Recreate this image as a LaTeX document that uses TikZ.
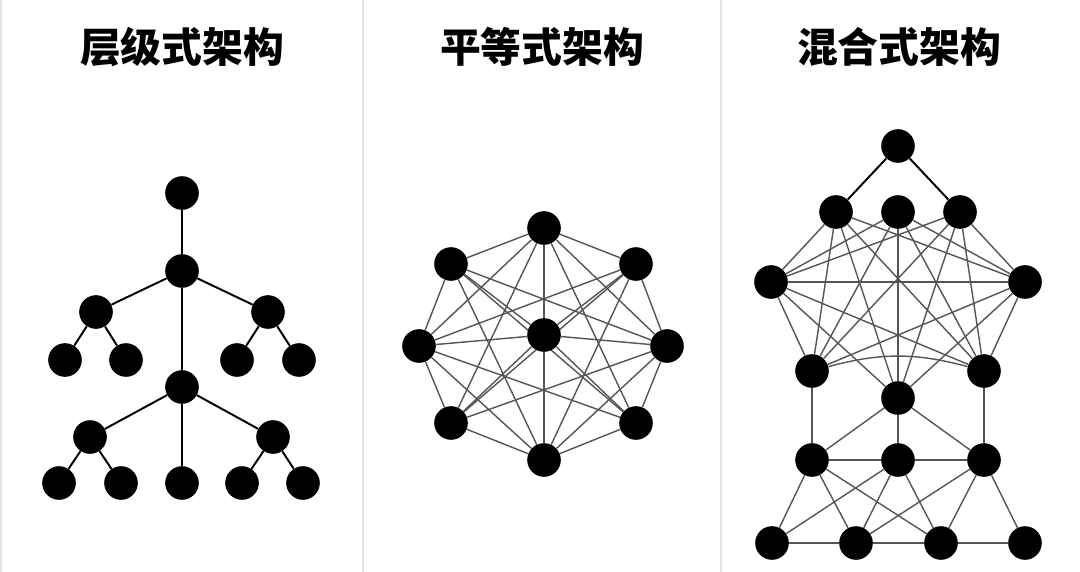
\documentclass[tikz,border=0pt]{standalone}
\usepackage{fontspec}
\newfontfamily\cjk{Noto Sans CJK SC}
\usepackage{tikz}
\pgfdeclarelayer{background}
\pgfsetlayers{background,main}
\definecolor{edgegray}{HTML}{555555}
\definecolor{rulegray}{HTML}{E1E5EA}

\begin{document}
\begin{tikzpicture}[
    x=0.025cm, y=-0.025cm,
    dot/.style={circle, fill=black, inner sep=0pt, minimum size=0.84cm},
    tree/.style={line width=1.4pt, color=black},
    link/.style={line width=1.0pt, color=edgegray},
    heading/.style={font=\cjk\bfseries\fontsize{29}{34}\selectfont},
    divider/.style={line width=1.2pt, color=rulegray}
]
\useasboundingbox (0,0) rectangle (1080,572);
\begin{pgfonlayer}{background}
\fill[white] (0,0) rectangle (1080,572);
\end{pgfonlayer}

% Panel dividers
\draw[divider] (1,0) -- (1,572);
\draw[divider] (363,0) -- (363,572);
\draw[divider] (721,0) -- (721,572);

% Headings
\node[heading] (t1) at (182,47) {层级式架构};
\node[heading] (t2) at (542,47) {平等式架构};
\node[heading] (t3) at (899,47) {混合式架构};

% Hierarchical
\node[dot] (root) at (182,193) {};
\node[dot] (n1)   at (182,271) {};
\node[dot] (l1)   at (96,312)  {};
\node[dot] (r1)   at (268,312) {};
\node[dot] (l1a)  at (65,360)  {};
\node[dot] (l1b)  at (126,360) {};
\node[dot] (r1a)  at (237,360) {};
\node[dot] (r1b)  at (299,360) {};
\node[dot] (n2)   at (182,387) {};
\node[dot] (l2)   at (90,437)  {};
\node[dot] (r2)   at (273,437) {};
\node[dot] (l2a)  at (59,483)  {};
\node[dot] (l2b)  at (121,483) {};
\node[dot] (m2)   at (182,483) {};
\node[dot] (r2a)  at (242,483) {};
\node[dot] (r2b)  at (303,483) {};

\draw[tree] (root) -- (n1);
\draw[tree] (n1) -- (l1);
\draw[tree] (n1) -- (r1);
\draw[tree] (l1) -- (l1a);
\draw[tree] (l1) -- (l1b);
\draw[tree] (r1) -- (r1a);
\draw[tree] (r1) -- (r1b);
\draw[tree] (n1) -- (n2);
\draw[tree] (n2) -- (l2);
\draw[tree] (n2) -- (r2);
\draw[tree] (n2) -- (m2);
\draw[tree] (l2) -- (l2a);
\draw[tree] (l2) -- (l2b);
\draw[tree] (r2) -- (r2a);
\draw[tree] (r2) -- (r2b);

% Peer-to-peer
\node[dot] (ptop) at (544,228) {};
\node[dot] (ptl)  at (451,264) {};
\node[dot] (ptr)  at (636,264) {};
\node[dot] (pl)   at (419,346) {};
\node[dot] (pc)   at (544,335) {};
\node[dot] (pr)   at (667,346) {};
\node[dot] (pbl)  at (451,423) {};
\node[dot] (pbr)  at (636,423) {};
\node[dot] (pbot) at (544,460) {};

\begin{pgfonlayer}{background}
\draw[link] (ptop) -- (ptl);  \draw[link] (ptop) -- (ptr);
\draw[link] (ptop) -- (pl);   \draw[link] (ptop) -- (pr);
\draw[link] (ptop) -- (pbl);  \draw[link] (ptop) -- (pbr);
\draw[link] (ptl) -- (pl);    \draw[link] (ptl) -- (pr);
\draw[link] (ptl) -- (pbr);   \draw[link] (ptl) -- (pbot);
\draw[link] (ptr) -- (pl);    \draw[link] (ptr) -- (pr);
\draw[link] (ptr) -- (pbl);   \draw[link] (ptr) -- (pbot);
\draw[link] (pl) -- (pbl);    \draw[link] (pl) -- (pbr);
\draw[link] (pl) -- (pbot);
\draw[link] (pr) -- (pbl);    \draw[link] (pr) -- (pbr);
\draw[link] (pr) -- (pbot);
\draw[link] (pbl) -- (pbot);  \draw[link] (pbr) -- (pbot);
\draw[link] (pc) -- (ptop);   \draw[link] (pc) -- (pbot);
\draw[link] (pc) -- (ptl);    \draw[link] (pc) -- (ptr);
\draw[link] (pc) -- (pl);     \draw[link] (pc) -- (pr);
\draw[link] (pc) -- (pbl);    \draw[link] (pc) -- (pbr);
\end{pgfonlayer}

% Hybrid
\node[dot] (htop) at (898,146) {};
\node[dot] (ha1)  at (836,212) {};
\node[dot] (ha2)  at (898,212) {};
\node[dot] (ha3)  at (960,212) {};
\node[dot] (hl)   at (771,282) {};
\node[dot] (hr)   at (1025,282) {};
\node[dot] (hbl)  at (812,371) {};
\node[dot] (hbr)  at (984,371) {};
\node[dot] (hc)   at (898,398) {};
\node[dot] (hm1)  at (812,460) {};
\node[dot] (hm2)  at (898,460) {};
\node[dot] (hm3)  at (984,460) {};
\node[dot] (hb1)  at (772,543) {};
\node[dot] (hb2)  at (856,543) {};
\node[dot] (hb3)  at (941,543) {};
\node[dot] (hb4)  at (1025,543) {};

\draw[tree] (htop) -- (ha1);
\draw[tree] (htop) -- (ha3);

\begin{pgfonlayer}{background}
\draw[link] (ha1) -- (hl);   \draw[link] (ha1) -- (hr);
\draw[link] (ha1) -- (hbl);  \draw[link] (ha1) -- (hbr);
\draw[link] (ha1) -- (hc);
\draw[link] (ha2) -- (hl);   \draw[link] (ha2) -- (hr);
\draw[link] (ha2) -- (hbl);  \draw[link] (ha2) -- (hbr);
\draw[link] (ha2) -- (hc);
\draw[link] (ha3) -- (hl);   \draw[link] (ha3) -- (hr);
\draw[link] (ha3) -- (hbl);  \draw[link] (ha3) -- (hbr);
\draw[link] (ha3) -- (hc);
\draw[link] (hl) -- (hr);    \draw[link] (hl) -- (hbl);
\draw[link] (hl) -- (hbr);   \draw[link] (hl) -- (hc);
\draw[link] (hr) -- (hbl);   \draw[link] (hr) -- (hbr);
\draw[link] (hr) -- (hc);
\draw[link] (hbl) to[bend left=15] (hbr);
\end{pgfonlayer}

% Lower tier
\draw[link] (hbl) -- (hm1);  \draw[link] (hbr) -- (hm3);
\draw[link] (hc) -- (hm1);   \draw[link] (hc) -- (hm2);
\draw[link] (hc) -- (hm3);
\draw[link] (hm1) -- (hm2);  \draw[link] (hm2) -- (hm3);
\draw[link] (hm1) -- (hb1);  \draw[link] (hm1) -- (hb2);
\draw[link] (hm1) -- (hb3);
\draw[link] (hm2) -- (hb1);  \draw[link] (hm2) -- (hb2);
\draw[link] (hm2) -- (hb3);
\draw[link] (hm3) -- (hb2);  \draw[link] (hm3) -- (hb3);
\draw[link] (hm3) -- (hb4);
\draw[link] (hb1) -- (hb2);  \draw[link] (hb2) -- (hb3);
\draw[link] (hb3) -- (hb4);
\end{tikzpicture}
\end{document}
